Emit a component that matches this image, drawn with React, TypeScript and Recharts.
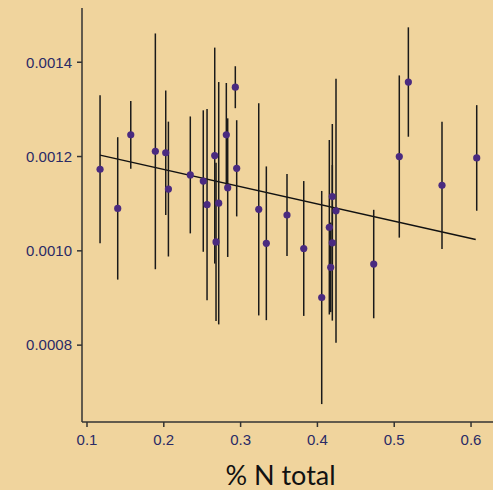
import {
  ErrorBar,
  ReferenceLine,
  Scatter,
  ScatterChart,
  XAxis,
  YAxis,
} from "recharts"

const nTotal = [
  0.117, 0.14, 0.157, 0.189, 0.2025, 0.206, 0.2345, 0.2514, 0.2563, 0.2663,
  0.2715, 0.268, 0.2814, 0.2832, 0.2931, 0.2949, 0.3236, 0.3335, 0.3604,
  0.3822, 0.4056, 0.4155, 0.4173, 0.4194, 0.4194, 0.4242, 0.4733, 0.5066,
  0.5184, 0.5622, 0.6074,
]
const ratio = [
  0.001173, 0.00109, 0.001246, 0.001211, 0.001208, 0.001131, 0.001161,
  0.001148, 0.001098, 0.001202, 0.001101, 0.001019, 0.001246, 0.001134,
  0.001347, 0.001175, 0.001088, 0.001016, 0.001076, 0.001005, 0.000901,
  0.00105, 0.000965, 0.001017, 0.001115, 0.001085, 0.000972, 0.0012,
  0.001358, 0.001139, 0.001197,
]
const ratioErr = [
  0.000157, 0.000151, 0.000072, 0.00025, 0.000132, 0.000143, 0.000124,
  0.00015, 0.000203, 0.000229, 0.000257, 0.000168, 0.00011, 0.000147,
  0.0000445, 0.000102, 0.000225, 0.000163, 0.000087, 0.000143, 0.000226,
  0.000185, 0.000095, 0.000165, 0.000154, 0.00028, 0.000115, 0.000172,
  0.000116, 0.000135, 0.000112,
]

// fitted line
const fitX = [0.117, 0.6061]
const fitY = [0.001203, 0.0010242]

const xTicks = [0.1, 0.2, 0.3, 0.4, 0.5, 0.6]
const yTicks = [0.0008, 0.001, 0.0012, 0.0014]

const points = nTotal.map((x, i) => ({ x, y: ratio[i], err: ratioErr[i] }))

const tickStyle = {
  fill: "#2a2a66",
  fontSize: 15,
  fontFamily: "'Liberation Sans', Arial, sans-serif",
}

export default function App() {
  return (
    <div
      style={{
        position: "absolute",
        left: 0,
        top: 0,
        width: 493,
        height: 490,
        background: "#F0D49D",
      }}
    >
      <ScatterChart
        width={493}
        height={490}
        margin={{ top: 8, right: 0, left: 0, bottom: 0 }}
      >
        <XAxis
          type="number"
          dataKey="x"
          domain={[0.0935, 0.6286]}
          ticks={xTicks}
          allowDataOverflow
          height={68}
          tickSize={5}
          tickMargin={7}
          stroke="#333"
          strokeWidth={1.5}
          tick={tickStyle}
          tickFormatter={(v) => String(v)}
          label={{
            value: "% N total",
            position: "insideBottom",
            offset: 5,
            dx: -7,
            fill: "#111",
            fontSize: 27,
            fontFamily: "Lato, 'Open Sans', sans-serif",
          }}
        />
        <YAxis
          type="number"
          dataKey="y"
          domain={[0.000637, 0.001515]}
          ticks={yTicks}
          allowDataOverflow
          width={82}
          tickSize={5}
          tickMargin={5}
          stroke="#333"
          strokeWidth={1.5}
          tick={tickStyle}
          tickFormatter={(v) => v.toFixed(4)}
        />
        <ReferenceLine
          segment={[
            { x: fitX[0], y: fitY[0] },
            { x: fitX[1], y: fitY[1] },
          ]}
          stroke="#111"
          strokeWidth={1.5}
        />
        <Scatter
          data={points}
          isAnimationActive={false}
          shape={(p: any) => (
            <circle cx={p.cx} cy={p.cy} r={3.6} fill="#4a2a80" />
          )}
        >
          <ErrorBar
            dataKey="err"
            direction="y"
            width={0}
            stroke="#1a1a1a"
            strokeWidth={1.5}
            isAnimationActive={false}
          />
        </Scatter>
      </ScatterChart>
    </div>
  )
}
